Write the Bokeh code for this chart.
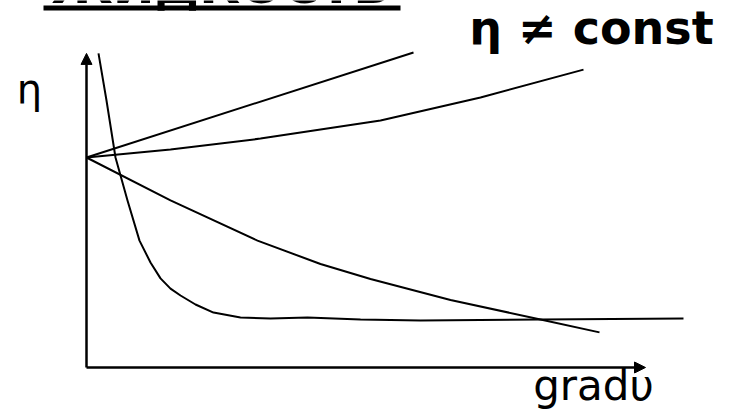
from bokeh.plotting import figure
from bokeh.models import Range1d, Arrow, NormalHead
from bokeh.core.properties import value
from bokeh.embed import file_html
from bokeh.resources import INLINE

# ---- data (arbitrary units: x = grad v, y = viscosity eta) ----
straight_x = [0, 6.54]
straight_y = [7.0, 10.5]

rising_x = [0, 1.68, 3.48, 5.88, 7.88, 9.94]
rising_y = [7.0, 7.27, 7.63, 8.23, 9.0, 9.93]

falling_x = [0, 1.68, 3.42, 4.68, 5.68, 7.28, 9.08, 10.26]
falling_y = [7.0, 5.57, 4.23, 3.45, 2.95, 2.25, 1.6, 1.17]

hyper_x = [0.24, 0.40, 0.58, 0.82, 1.06, 1.28, 1.48, 1.68, 1.88, 2.18, 2.54,
           3.08, 3.68, 4.42, 5.48, 6.68, 9.08, 11.94]
hyper_y = [10.47, 8.9, 7.0, 5.57, 4.23, 3.5, 2.97, 2.63, 2.4, 2.1, 1.83,
           1.67, 1.63, 1.67, 1.6, 1.57, 1.6, 1.63]

x_axis_end = 11.18
y_axis_end = 10.47

title_text = "ЖИДКОСТЬ"
note_text = "η ≠ const"
y_label = "η"
x_label = "gradυ"

FONT = value("DejaVu Sans")

p = figure(width=736, height=412, output_backend="svg", toolbar_location=None,
           x_range=Range1d(-1.72, 13.0), y_range=Range1d(-1.5, 12.233),
           min_border=0, x_axis_location=None, y_axis_location=None,
           outline_line_color=None)
p.xgrid.visible = False
p.ygrid.visible = False
p.background_fill_color = "white"
p.border_fill_color = "white"

# axes with arrow heads
p.add_layout(Arrow(end=NormalHead(size=11, fill_color="black", line_color="black"),
                   x_start=0, y_start=0, x_end=0, y_end=y_axis_end,
                   line_width=2.5, line_color="black"))
p.add_layout(Arrow(end=NormalHead(size=11, fill_color="black", line_color="black"),
                   x_start=0, y_start=0, x_end=x_axis_end, y_end=0,
                   line_width=2.5, line_color="black"))

# curves
for xs, ys in [(straight_x, straight_y), (rising_x, rising_y),
               (falling_x, falling_y), (hyper_x, hyper_y)]:
    p.line(xs, ys, line_color="black", line_width=2, line_join="round")

# heading (mostly cut off at top) and its underline
p.text(x=[2.7], y=[12.72], text=[title_text], text_font=FONT,
       text_font_style="bold", text_font_size="50px", text_align="center",
       text_baseline="alphabetic", text_color="black")
p.line([-0.86, 6.28], [11.98, 11.98], line_color="black", line_width=5)

# labels
p.text(x=[10.1], y=[11.33], text=[note_text], text_font=FONT,
       text_font_style="bold", text_font_size="46px", text_align="center",
       text_baseline="alphabetic", text_color="black")
p.text(x=[-1.14], y=[9.27], text=[y_label], text_font=FONT,
       text_font_size="40px", text_align="center",
       text_baseline="alphabetic", text_color="black")
p.text(x=[10.14], y=[-0.6], text=[x_label], text_font=FONT,
       text_font_size="42px", text_align="center",
       text_baseline="alphabetic", text_color="black")

open("out.html", "w").write(file_html(p, INLINE))
